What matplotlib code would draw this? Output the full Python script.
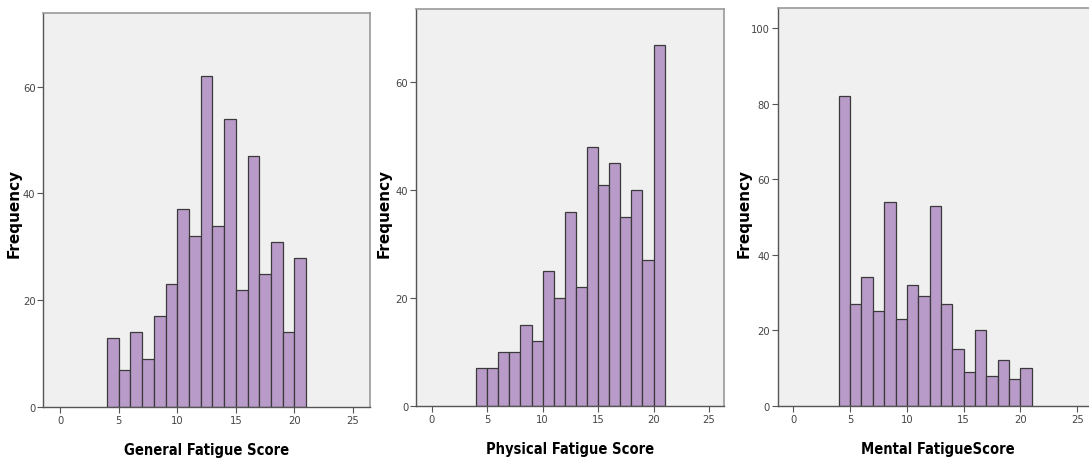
import numpy as np
import matplotlib
matplotlib.use("Agg")
import matplotlib.pyplot as plt

# score bins (left edges), width 1, from 4 to 21
bin_left = np.arange(4, 21)

general_counts = [13, 7, 14, 9, 17, 23, 37, 32, 62, 34, 54, 22, 47, 25, 31, 14, 28]
physical_counts = [7, 7, 10, 10, 15, 12, 25, 20, 36, 22, 48, 41, 45, 35, 40, 27, 67]
mental_counts = [82, 27, 34, 25, 54, 23, 32, 29, 53, 27, 15, 9, 20, 8, 12, 7, 10]

xlabels = ["General Fatigue Score", "Physical Fatigue Score", "Mental FatigueScore"]
xticks = [0, 5, 10, 15, 20, 25]
yticks_list = [[0, 20, 40, 60], [0, 20, 40, 60], [0, 20, 40, 60, 80, 100]]

narrow = ["DejaVu Sans"]
bar_color = "#b99bca"
edge_color = "#3a3a3a"

fig = plt.figure(figsize=(10.89, 4.64), dpi=100)
fig.patch.set_facecolor("white")

# axes boxes in figure fraction: left, bottom, width, height
boxes = [
    [0.0395, 0.1207, 0.3003, 0.849],
    [0.382, 0.1228, 0.2828, 0.8556],
    [0.714, 0.1235, 0.295, 0.8565],
]
xlims = [(-1.45, 26.45), (-1.42, 26.35), (-1.39, 26.9)]
ylims = [(0, 73.8), (0, 73.6), (0, 105.3)]
ylabel_x = [14, 384, 744]

for i, counts in enumerate([general_counts, physical_counts, mental_counts]):
    ax = fig.add_axes(boxes[i])
    ax.set_facecolor("#f0f0f0")
    ax.bar(bin_left, counts, width=1, align="edge", color=bar_color,
           edgecolor=edge_color, linewidth=0.9, zorder=2)
    ax.set_xlim(*xlims[i])
    ax.set_ylim(*ylims[i])
    ax.set_xticks(xticks)
    ax.set_yticks(yticks_list[i])
    ax.tick_params(axis="both", direction="out", length=4, width=0.8,
                   color="#555555", labelcolor="#444444", labelsize=8, pad=2)
    ax.tick_params(axis="y", pad=1.5)
    for lab in ax.get_xticklabels() + ax.get_yticklabels():
        lab.set_family(narrow)
        lab.set_stretch("condensed")
    for s in ["top", "right"]:
        ax.spines[s].set_color("#999999")
        ax.spines[s].set_linewidth(1.2)
    for s in ["left", "bottom"]:
        ax.spines[s].set_color("#555555")
        ax.spines[s].set_linewidth(1.0)
    ax.set_xlabel(xlabels[i], fontsize=10.5, fontweight="bold", family=narrow,
                  fontstretch="condensed", labelpad=12)
    fig.text(ylabel_x[i] / 1089, 1 - 213 / 464, "Frequency", rotation=90,
             ha="center", va="center", fontsize=11, fontweight="bold",
             family=["DejaVu Sans"])

fig.savefig("out.png", dpi=100)
